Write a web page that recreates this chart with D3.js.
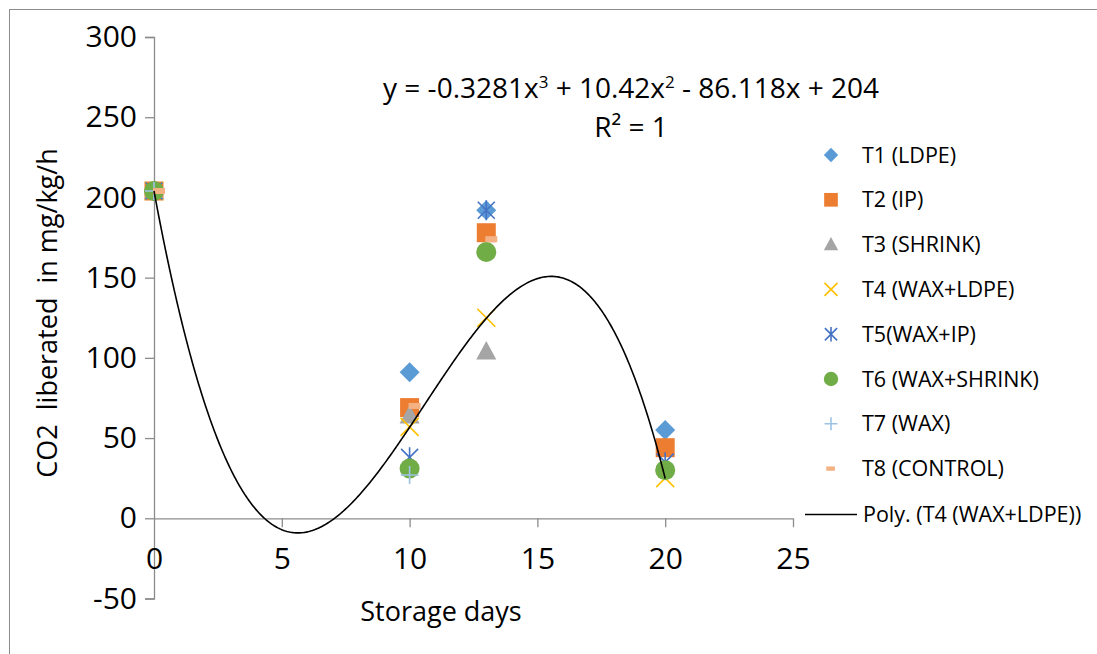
<!DOCTYPE html>
<html>
<head>
<meta charset="utf-8">
<script src="https://cdn.jsdelivr.net/npm/d3@7"></script>
<style>
    body { margin: 0; background: #fff; }
    svg { display: block; font-family: "Open Sans", sans-serif; }
</style>
</head>
<body>
<div id="chart"></div>
<script>
// storage days and CO2 readings (mg/kg/h) per treatment, null = no marker visible
const days = [0, 10, 13, 20];
const seriesNames = ["T1 (LDPE)", "T2 (IP)", "T3 (SHRINK)", "T4 (WAX+LDPE)", "T5(WAX+IP)",
    "T6 (WAX+SHRINK)", "T7 (WAX)", "T8 (CONTROL)"];
const t1 = [204, 91, 192, 55];
const t2 = [204, 69, 178, 44];
const t3 = [204, 64, 104, null];
const t4 = [204, 57, 125, 25];
const t5 = [204, 38, 192, 35];
const t6 = [204, 31, 166, 30];
const t7 = [204, 27, null, null];
const t8 = [204, 70, 174, null];
const seriesValues = [t1, t2, t3, t4, t5, t6, t7, t8];

const xTicks = [0, 5, 10, 15, 20, 25];
const yTicks = [-50, 0, 50, 100, 150, 200, 250, 300];

// cubic trendline for T4, coefficients as printed on the chart (c0 + c1 x + c2 x^2 + c3 x^3)
const polyCoef = [204, -86.118, 10.42, -0.3281];
const polyLabel = "Poly. (T4 (WAX+LDPE))";

const colors = ["#5B9BD5", "#ED7D31", "#A5A5A5", "#FFC000", "#4472C4", "#70AD47", "#9DC3E6", "#F4B183"];
const shapes = ["diamond", "square", "triangle", "x", "star", "circle", "plus", "dash"];

const W = 1097, H = 654;
const svg = d3.select("#chart").append("svg")
    .attr("width", W)
    .attr("height", H);

// outer chart border (only top and left visible)
svg.append("rect")
    .attr("x", 9.5).attr("y", 9.5)
    .attr("width", W + 20).attr("height", H + 20)
    .attr("fill", "none")
    .attr("stroke", "#8c8c8c");

const x = d3.scaleLinear().domain([0, 25]).range([154, 793]);
const y = d3.scaleLinear().domain([-50, 300]).range([598.5, 37]);

// y axis
const yAxis = svg.append("g")
    .attr("transform", `translate(${x(0)},0)`)
    .call(d3.axisLeft(y).tickValues(yTicks).tickSize(9).tickPadding(8)
        .tickFormat(d => String(d)));
// x axis sits at y = 0
const xAxis = svg.append("g")
    .attr("transform", `translate(0,${y(0)})`)
    .call(d3.axisBottom(x).tickValues(xTicks).tickSize(9).tickPadding(0));

[yAxis, xAxis].forEach(g => {
    g.select(".domain").attr("stroke", "#8c8c8c").attr("stroke-width", 1.3);
    g.selectAll(".tick line").attr("stroke", "#8c8c8c").attr("stroke-width", 1.3);
    g.selectAll("text")
        .attr("fill", "#000")
        .style("font-family", "'Open Sans', sans-serif")
        .style("font-size", "30px");
});
xAxis.select(".domain").attr("d", `M${x(0)},0.5H${x(25)}`);
xAxis.selectAll(".tick text").attr("y", 0).attr("dy", "1.7em");
// no tick at x = 0 (y axis crosses there)
xAxis.selectAll(".tick").filter(d => d === 0).select("line").remove();

// axis titles
svg.append("text")
    .attr("x", 441).attr("y", 621)
    .attr("text-anchor", "middle")
    .style("font-size", "27px")
    .text("Storage days");

svg.append("text")
    .attr("transform", `translate(57,${313}) rotate(-90)`)
    .attr("text-anchor", "middle")
    .style("font-size", "27px")
    .style("white-space", "pre")
    .text("CO2  liberated  in mg/kg/h");

// marker drawing
function drawMarker(g, shape, color, s) {
    if (shape === "diamond") {
        g.append("path").attr("d", `M0,${-10 * s}L${10 * s},0L0,${10 * s}L${-10 * s},0Z`).attr("fill", color);
    } else if (shape === "square") {
        g.append("rect").attr("x", -9.5 * s).attr("y", -9.5 * s).attr("width", 19 * s).attr("height", 19 * s).attr("fill", color);
    } else if (shape === "triangle") {
        g.append("path").attr("d", `M0,${-10.5 * s}L${10 * s},${8 * s}L${-10 * s},${8 * s}Z`).attr("fill", color);
    } else if (shape === "x") {
        g.append("path").attr("d", `M${-9 * s},${-9 * s}L${9 * s},${9 * s}M${9 * s},${-9 * s}L${-9 * s},${9 * s}`)
            .attr("stroke", color).attr("stroke-width", 1.6).attr("fill", "none");
    } else if (shape === "star") {
        g.append("path").attr("d", `M${-8.5 * s},${-8.5 * s}L${8.5 * s},${8.5 * s}M${8.5 * s},${-8.5 * s}L${-8.5 * s},${8.5 * s}M0,${-10 * s}V${10 * s}`)
            .attr("stroke", color).attr("stroke-width", 1.6).attr("fill", "none");
    } else if (shape === "circle") {
        g.append("circle").attr("r", 10 * s).attr("fill", color);
    } else if (shape === "plus") {
        g.append("path").attr("d", `M${-9 * s},0H${9 * s}M0,${-9 * s}V${9 * s}`)
            .attr("stroke", color).attr("stroke-width", 1.6).attr("fill", "none");
    } else if (shape === "dash") {
        g.append("rect").attr("x", -1 * s).attr("y", -3 * s).attr("width", 12 * s).attr("height", 6 * s).attr("fill", color);
    }
}

// trendline
const line = d3.line()
    .x(d => x(d))
    .y(d => y(polyCoef[0] + polyCoef[1] * d + polyCoef[2] * d * d + polyCoef[3] * d * d * d))
    .curve(d3.curveLinear);

// data markers, drawn in series order
seriesValues.forEach((vals, i) => {
    const pts = days.map((d, j) => ({day: d, v: vals[j]})).filter(p => p.v !== null);
    svg.append("g").selectAll("g")
        .data(pts)
        .join("g")
        .attr("transform", p => `translate(${x(p.day)},${y(p.v)})`)
        .each(function () { drawMarker(d3.select(this), shapes[i], colors[i], 1); });
});

svg.append("path")
    .datum(d3.range(0, 20.001, 0.05))
    .attr("d", line)
    .attr("fill", "none")
    .attr("stroke", "#000")
    .attr("stroke-width", 1.6);

// equation label
svg.append("text")
    .attr("x", 631).attr("y", 98)
    .attr("text-anchor", "middle")
    .style("font-size", "28px")
    .html('y = -0.3281x<tspan dy="-10" font-size="17">3</tspan><tspan dy="10"> + 10.42x</tspan><tspan dy="-10" font-size="17">2</tspan><tspan dy="10"> - 86.118x + 204</tspan>');
svg.append("text")
    .attr("x", 631).attr("y", 137)
    .attr("text-anchor", "middle")
    .style("font-size", "28px")
    .text("R² = 1");

// legend
const legend = svg.append("g").attr("transform", "translate(831,155)");
const rowH = 44.8;
seriesNames.forEach((name, i) => {
    const row = legend.append("g").attr("transform", `translate(0,${i * rowH})`);
    const m = row.append("g");
    drawMarker(m, shapes[i], colors[i], 0.72);
    if (shapes[i] === "dash") m.attr("transform", "translate(-4,0)");
    row.append("text")
        .attr("x", 31).attr("y", 0).attr("dy", "0.35em")
        .style("font-size", "21.5px")
        .text(name);
});
const polyRow = legend.append("g").attr("transform", `translate(0,${8 * rowH + 1})`);
polyRow.append("line")
    .attr("x1", -26).attr("x2", 26)
    .attr("stroke", "#000").attr("stroke-width", 1.5);
polyRow.append("text")
    .attr("x", 32).attr("dy", "0.35em")
    .style("font-size", "21.5px")
    .text(polyLabel);
</script>
</body>
</html>
